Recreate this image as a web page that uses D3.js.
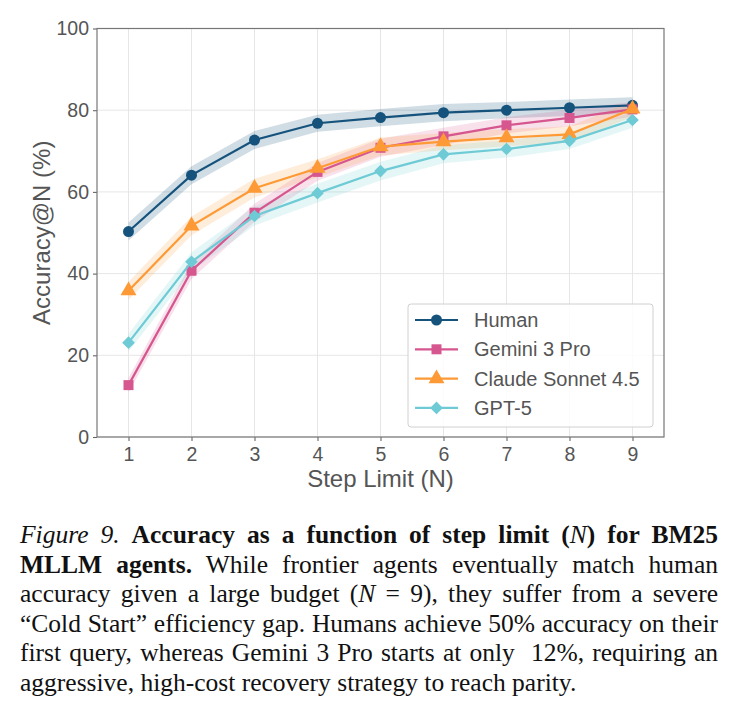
<!DOCTYPE html>
<html>
<head>
<meta charset="utf-8">
<script src="https://cdn.jsdelivr.net/npm/d3@7"></script>
<style>
  body { margin: 0; background: #fff; }
  #wrap { position: relative; width: 737px; height: 714px; overflow: hidden; }
  .caption {
    position: absolute; left: 20px; top: 520px; width: 698px;
    font-family: "Liberation Serif", "Times New Roman", serif;
    font-size: 25.5px; line-height: 29.6px; color: #111;
  }
  .caption div { text-align: justify; text-align-last: justify; white-space: nowrap; }
  .caption div.last { text-align-last: left; }
</style>
</head>
<body>
<div id="wrap">
  <svg id="chart" width="737" height="510"></svg>
  <div class="caption">
    <div><i>Figure 9.</i> <b>Accuracy as a function of step limit (</b><i>N</i><b>) for BM25</b></div>
    <div><b>MLLM agents.</b> While frontier agents eventually match human</div>
    <div>accuracy given a large budget (<i>N</i> = 9), they suffer from a severe</div>
    <div>“Cold Start” efficiency gap. Humans achieve 50% accuracy on their</div>
    <div>first query, whereas Gemini 3 Pro starts at only &nbsp;12%, requiring an</div>
    <div class="last">aggressive, high-cost recovery strategy to reach parity.</div>
  </div>
</div>
<script>
const steps = [1, 2, 3, 4, 5, 6, 7, 8, 9];
const yTicks = [0, 20, 40, 60, 80, 100];

const seriesNames = ["Human", "Gemini 3 Pro", "Claude Sonnet 4.5", "GPT-5"];
const human   = [50.3, 64.1, 72.7, 76.8, 78.2, 79.4, 80.0, 80.6, 81.2];
const gemini  = [12.7, 40.7, 54.9, 64.9, 70.8, 73.6, 76.3, 78.1, 80.2];
const claude  = [35.8, 51.7, 60.9, 65.8, 71.1, 72.3, 73.3, 74.1, 80.3];
const gpt5    = [23.1, 42.9, 54.1, 59.7, 65.1, 69.2, 70.5, 72.5, 77.6];

// half-width of the shaded band around each line
const humanErr  = [2.2, 2.2, 2.2, 2.1, 2.1, 2.1, 2.0, 2.0, 2.0];
const geminiErr = [1.8, 2.0, 2.2, 2.2, 2.2, 2.1, 2.0, 2.0, 1.8];
const claudeErr = [2.2, 2.3, 2.3, 2.2, 2.2, 2.1, 2.1, 2.0, 1.9];
const gpt5Err   = [2.2, 2.3, 2.3, 2.3, 2.3, 2.2, 2.1, 2.0, 1.9];

const colors = ["#15537d", "#d6568f", "#fd9a35", "#6ecbd5"];
// diamond = square turned 45 degrees (matplotlib style)
const shapes = [d3.symbolCircle, d3.symbolSquare, d3.symbolTriangle, d3.symbolSquare];
const rotations = [0, 0, 0, 45];
const symSizes = [95, 100, 110, 80];

const values = [human, gemini, claude, gpt5];
const errs = [humanErr, geminiErr, claudeErr, gpt5Err];

const margin = {top: 28.5, left: 97, right: 737 - 664, bottom: 510 - 437};
const width = 737 - margin.left - margin.right;
const height = 510 - margin.top - margin.bottom;

const svg = d3.select("#chart");
const g = svg.append("g").attr("transform", `translate(${margin.left},${margin.top})`);

const x = d3.scaleLinear().domain([0.5, 9.5]).range([0, width]);
const y = d3.scaleLinear().domain([0, 100]).range([height, 0]);

// grid
g.append("g").selectAll("line").data(steps).join("line")
  .attr("x1", d => x(d)).attr("x2", d => x(d))
  .attr("y1", 0).attr("y2", height)
  .attr("stroke", "#e6e6e6").attr("stroke-width", 1);
g.append("g").selectAll("line").data(yTicks).join("line")
  .attr("x1", 0).attr("x2", width)
  .attr("y1", d => y(d)).attr("y2", d => y(d))
  .attr("stroke", "#e6e6e6").attr("stroke-width", 1);

// axes
const xAxis = d3.axisBottom(x).tickValues(steps).tickSize(4).tickPadding(6).tickSizeOuter(0);
const yAxis = d3.axisLeft(y).tickValues(yTicks).tickSize(4).tickPadding(4).tickSizeOuter(0);

const xG = g.append("g").attr("transform", `translate(0,${height})`).call(xAxis);
const yG = g.append("g").call(yAxis);
[xG, yG].forEach(a => {
  a.select(".domain").remove();
  a.selectAll("line").attr("stroke", "#666").attr("stroke-width", 1.1);
  a.selectAll("text")
    .attr("fill", "#555")
    .style("font-family", "'Liberation Sans', Arial, sans-serif")
    .style("font-size", "19.5px");
});

// bands and lines
const area = (vals, e) => d3.area()
  .x((d, i) => x(steps[i]))
  .y0((d, i) => y(vals[i] - e[i]))
  .y1((d, i) => y(vals[i] + e[i]));
const line = d3.line().x((d, i) => x(steps[i])).y(d => y(d));

values.forEach((vals, s) => {
  g.append("path")
    .datum(vals)
    .attr("d", area(vals, errs[s]))
    .attr("fill", colors[s])
    .attr("fill-opacity", s === 0 ? 0.2 : 0.18);
});

values.forEach((vals, s) => {
  g.append("path")
    .datum(vals)
    .attr("d", line)
    .attr("fill", "none")
    .attr("stroke", colors[s])
    .attr("stroke-width", 2.2);
  g.append("g").selectAll("path").data(vals).join("path")
    .attr("transform", (d, i) => `translate(${x(steps[i])},${y(d)}) rotate(${rotations[s]})`)
    .attr("d", d3.symbol().type(shapes[s]).size(symSizes[s]))
    .attr("fill", colors[s]);
});

// frame
g.append("rect")
  .attr("width", width).attr("height", height)
  .attr("fill", "none").attr("stroke", "#777").attr("stroke-width", 1.2);

// axis titles
svg.append("text")
  .attr("x", margin.left + width / 2)
  .attr("y", 487)
  .attr("text-anchor", "middle")
  .attr("fill", "#555")
  .style("font-family", "'Liberation Sans', Arial, sans-serif")
  .style("font-size", "24px")
  .text("Step Limit (N)");

svg.append("text")
  .attr("transform", `translate(50,${margin.top + height / 2}) rotate(-90)`)
  .attr("text-anchor", "middle")
  .attr("fill", "#555")
  .style("font-family", "'Liberation Sans', Arial, sans-serif")
  .style("font-size", "24px")
  .text("Accuracy@N (%)");

// legend
const legend = svg.append("g").attr("transform", "translate(408,304)");
legend.append("rect")
  .attr("width", 245).attr("height", 123)
  .attr("rx", 3)
  .attr("fill", "#fff").attr("fill-opacity", 0.85)
  .attr("stroke", "#d0d0d0");

const rows = legend.selectAll("g.row").data(seriesNames).join("g")
  .attr("class", "row")
  .attr("transform", (d, i) => `translate(0,${16 + i * 29.3})`);
rows.append("line")
  .attr("x1", 7).attr("x2", 50)
  .attr("stroke", (d, i) => colors[i]).attr("stroke-width", 2.2);
rows.append("path")
  .attr("transform", (d, i) => `translate(28.5,0) rotate(${rotations[i]})`)
  .attr("d", (d, i) => d3.symbol().type(shapes[i]).size(symSizes[i])())
  .attr("fill", (d, i) => colors[i]);
rows.append("text")
  .attr("x", 66).attr("y", 7)
  .attr("fill", "#555")
  .style("font-family", "'Liberation Sans', Arial, sans-serif")
  .style("font-size", "20px")
  .text(d => d);
</script>
</body>
</html>
